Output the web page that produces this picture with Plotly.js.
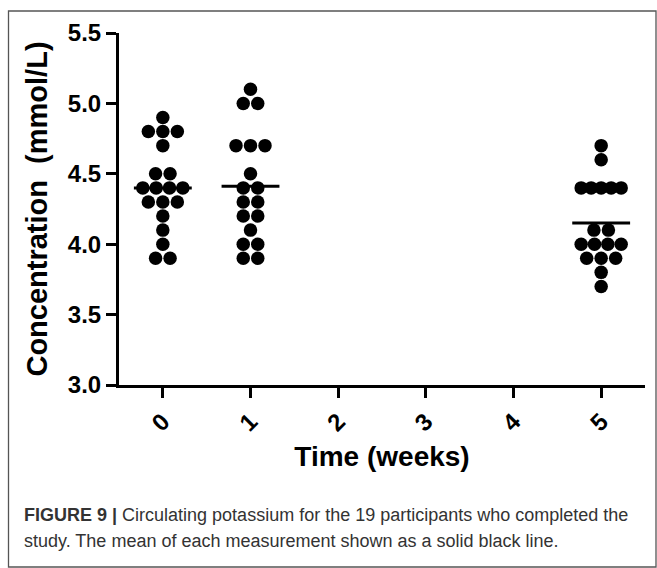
<!DOCTYPE html>
<html><head><meta charset="utf-8">
<script src="https://cdn.plot.ly/plotly-3.0.1.min.js"></script>
<style>body{margin:0;padding:0;background:#fff}#chart{width:657px;height:568px}</style>
</head><body><div id="chart"></div>
<script>
// ---- data ----
const weeks = [0, 1, 5];
const tickVals = [0, 1, 2, 3, 4, 5];
const tickLabels = ['0', '1', '2', '3', '4', '5'];
const yTickVals = [3, 3.5, 4, 4.5, 5, 5.5];
const yTickLabels = ['3.0', '3.5', '4.0', '4.5', '5.0', '5.5'];
const week0 = [4.9, 4.8, 4.8, 4.8, 4.7, 4.5, 4.5, 4.4, 4.4, 4.4, 4.4, 4.3, 4.3, 4.3, 4.2, 4.1, 4.0, 3.9, 3.9];
const week1 = [5.1, 5.0, 5.0, 4.7, 4.7, 4.7, 4.5, 4.4, 4.4, 4.3, 4.3, 4.2, 4.2, 4.1, 4.0, 4.0, 3.9, 3.9];
const week5 = [4.7, 4.6, 4.4, 4.4, 4.4, 4.4, 4.4, 4.1, 4.1, 4.0, 4.0, 4.0, 4.0, 3.9, 3.9, 3.9, 3.8, 3.7];
const groups = [week0, week1, week5];
const yTitle = 'Concentration&nbsp; (mmol/L)';
const xTitle = 'Time (weeks)';
const caption1 = '<b>FIGURE 9 |</b> Circulating potassium for the 19 participants who completed the';
const caption2 = 'study. The mean of each measurement shown as a solid black line.';

// ---- layout geometry ----
const W = 657, H = 568;
const M = {l: 119, r: 12, t: 33, b: 183};
const xRange = [-0.5, 5.5], yRange = [3, 5.5];
const plotW = W - M.l - M.r, plotH = H - M.t - M.b;
const pxPerX = plotW / (xRange[1] - xRange[0]);
const px2paperX = px => (px - M.l) / plotW;
const px2paperY = py => (H - M.b - py) / plotH;

// symmetric row spreading (scatter-dot style)
function spread(vals, center) {
  const counts = {}, seen = {};
  vals.forEach(v => { counts[v] = (counts[v] || 0) + 1; });
  return vals.map(v => {
    const n = counts[v];
    const i = seen[v] = (seen[v] === undefined ? 0 : seen[v] + 1);
    const s = n > 1 ? Math.min(14.5, 40 / (n - 1)) : 0;
    return center + (i * s - (n - 1) * s / 2) / pxPerX;
  });
}
const mean = a => a.reduce((p, c) => p + c, 0) / a.length;

const traces = groups.map((g, k) => ({
  type: 'scatter', mode: 'markers',
  x: spread(g, weeks[k]), y: g,
  marker: {color: '#000', size: 13.5, line: {width: 0}},
  showlegend: false, hoverinfo: 'y', cliponaxis: false
}));
const mx = [], my = [];
groups.forEach((g, k) => {
  const m = mean(g);
  mx.push(weeks[k] - 0.33, weeks[k] + 0.33, null);
  my.push(m, m, null);
});
traces.push({type: 'scatter', mode: 'lines', x: mx, y: my,
  line: {color: '#000', width: 3}, showlegend: false, hoverinfo: 'skip'});

const boldFont = (size) => ({family: 'Liberation Sans, Arial, sans-serif', size: size, color: '#000', weight: 'bold'});
const capFont = {family: 'Liberation Sans, Arial, sans-serif', size: 18, color: '#333'};

const layout = {
  width: W, height: H,
  margin: M,
  paper_bgcolor: '#fff', plot_bgcolor: '#fff',
  xaxis: {
    range: xRange, tickvals: tickVals, ticktext: tickLabels, tickangle: -45,
    showgrid: false, zeroline: false, showline: true, linecolor: '#000', linewidth: 3,
    ticks: 'outside', ticklen: 10, tickwidth: 3, tickcolor: '#000',
    tickfont: boldFont(24),
    title: {text: xTitle, font: boldFont(28), standoff: 12}
  },
  yaxis: {
    range: yRange, tickvals: yTickVals, ticktext: yTickLabels,
    showgrid: false, zeroline: false, showline: true, linecolor: '#000', linewidth: 3,
    ticks: 'outside', ticklen: 10, tickwidth: 3, tickcolor: '#000',
    tickfont: boldFont(24),
    title: {text: yTitle, font: boldFont(29), standoff: 12}
  },
  shapes: [{
    type: 'rect', xref: 'paper', yref: 'paper',
    x0: px2paperX(8.5), x1: px2paperX(656), y0: px2paperY(11), y1: px2paperY(567),
    line: {color: '#555', width: 1.3}, layer: 'below'
  }],
  annotations: [
    {xref: 'paper', yref: 'paper', x: px2paperX(22), y: px2paperY(515), xanchor: 'left', yanchor: 'middle',
     text: caption1, showarrow: false, align: 'left', font: capFont},
    {xref: 'paper', yref: 'paper', x: px2paperX(22), y: px2paperY(541), xanchor: 'left', yanchor: 'middle',
     text: caption2, showarrow: false, align: 'left', font: capFont}
  ]
};

Plotly.newPlot('chart', traces, layout, {displayModeBar: false, staticPlot: true});
</script></body></html>
